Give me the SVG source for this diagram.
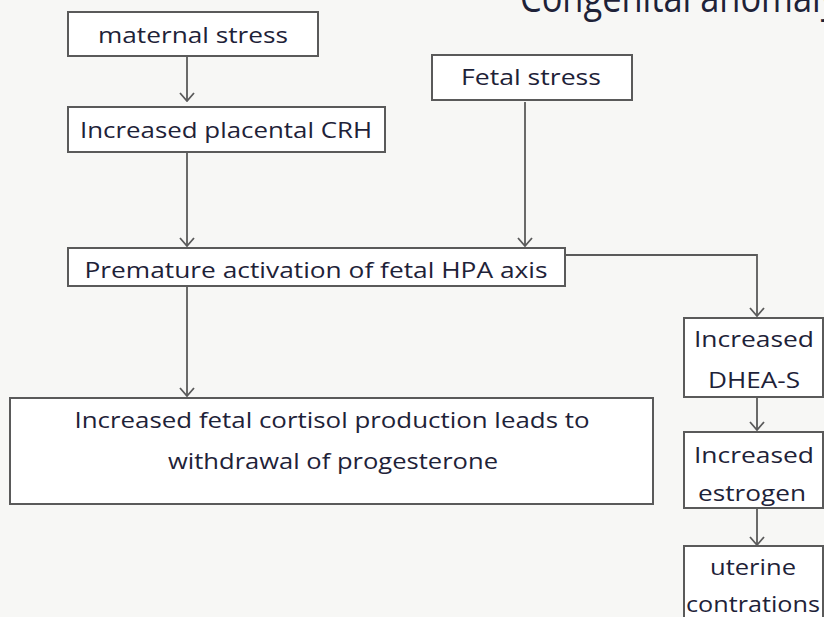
<svg xmlns="http://www.w3.org/2000/svg" width="824" height="617" viewBox="0 0 824 617">
  <defs>
    <style>
      .box { fill: #ffffff; stroke: #5a5a5a; stroke-width: 2; }
      .lbl { font-family: "Open Sans", "Liberation Sans", sans-serif; font-size: 21px; fill: #1e2238; text-anchor: middle; }
      .edge { fill: none; stroke: #5a5a5a; stroke-width: 1.8; }
    </style>
    <!-- open V arrowhead, drawn pointing along +x so orient="auto" turns it with the line -->
    <marker id="vhead" viewBox="0 0 10 16" refX="9" refY="8" markerWidth="10" markerHeight="16" markerUnits="userSpaceOnUse" orient="auto">
      <polyline points="1,1 9,8 1,15" fill="none" stroke="#5a5a5a" stroke-width="1.8"/>
    </marker>
  </defs>

  <rect width="824" height="617" fill="#f7f7f5"/>

  <!-- heading cut off at the top edge -->
  <text x="520" y="12" textLength="318" lengthAdjust="spacingAndGlyphs" style="font-family: 'Open Sans', 'Liberation Sans', sans-serif; font-size: 40px; fill: #1e2238;">Congenital anomaly</text>

  <!-- connectors -->
  <g id="connectors">
    <line class="edge" x1="187" y1="56" x2="187" y2="101" marker-end="url(#vhead)"/>
    <line class="edge" x1="187" y1="152" x2="187" y2="246" marker-end="url(#vhead)"/>
    <line class="edge" x1="525" y1="102" x2="525" y2="246" marker-end="url(#vhead)"/>
    <polyline class="edge" points="565,255 757,255 757,316" marker-end="url(#vhead)"/>
    <line class="edge" x1="187" y1="286" x2="187" y2="396" marker-end="url(#vhead)"/>
    <line class="edge" x1="757" y1="397" x2="757" y2="430" marker-end="url(#vhead)"/>
    <line class="edge" x1="757" y1="508" x2="757" y2="545" marker-end="url(#vhead)"/>
  </g>

  <g id="maternal-stress">
    <rect class="box" x="68" y="12" width="250" height="44"/>
    <text class="lbl" x="193" y="43" textLength="190" lengthAdjust="spacingAndGlyphs">maternal stress</text>
  </g>

  <g id="placental-crh">
    <rect class="box" x="68" y="107" width="317" height="45"/>
    <text class="lbl" x="226" y="138" textLength="292" lengthAdjust="spacingAndGlyphs">Increased placental CRH</text>
  </g>

  <g id="fetal-stress">
    <rect class="box" x="432" y="55" width="200" height="45"/>
    <text class="lbl" x="531" y="85" textLength="140" lengthAdjust="spacingAndGlyphs">Fetal stress</text>
  </g>

  <g id="hpa-axis">
    <rect class="box" x="68" y="248" width="497" height="38"/>
    <text class="lbl" x="316" y="278" textLength="463" lengthAdjust="spacingAndGlyphs">Premature activation of fetal HPA axis</text>
  </g>

  <g id="fetal-cortisol">
    <rect class="box" x="10" y="398" width="643" height="106"/>
    <text class="lbl" x="332" y="428" textLength="515" lengthAdjust="spacingAndGlyphs">Increased fetal cortisol production leads to</text>
    <text class="lbl" x="333" y="469" textLength="330" lengthAdjust="spacingAndGlyphs">withdrawal of progesterone</text>
  </g>

  <g id="dhea-s">
    <rect class="box" x="684" y="318" width="139" height="79"/>
    <text class="lbl" x="754" y="347" textLength="120" lengthAdjust="spacingAndGlyphs">Increased</text>
    <text class="lbl" x="754" y="388" textLength="92" lengthAdjust="spacingAndGlyphs">DHEA-S</text>
  </g>

  <g id="estrogen">
    <rect class="box" x="684" y="432" width="139" height="76"/>
    <text class="lbl" x="754" y="463" textLength="120" lengthAdjust="spacingAndGlyphs">Increased</text>
    <text class="lbl" x="752" y="501" textLength="108" lengthAdjust="spacingAndGlyphs">estrogen</text>
  </g>

  <g id="uterine-contractions">
    <rect class="box" x="684" y="546" width="139" height="80"/>
    <text class="lbl" x="753" y="575" textLength="86" lengthAdjust="spacingAndGlyphs">uterine</text>
    <text class="lbl" x="753" y="612" textLength="134" lengthAdjust="spacingAndGlyphs">contrations</text>
  </g>
</svg>
